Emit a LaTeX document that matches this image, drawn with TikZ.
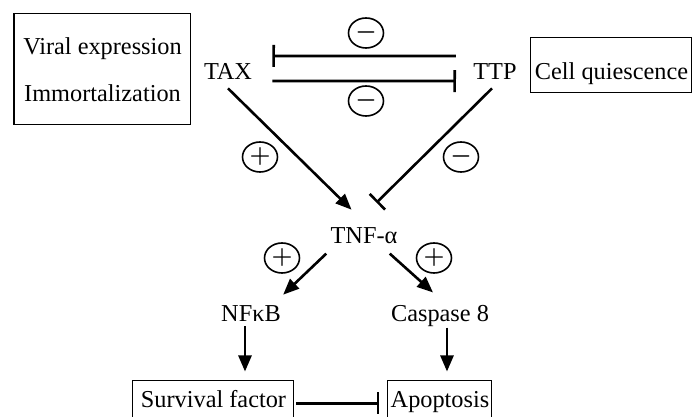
\documentclass[tikz,border=0pt]{standalone}
\usepackage{fontspec}
\setmainfont{Liberation Serif}
\usetikzlibrary{arrows.meta,shapes.geometric}

\begin{document}
\begin{tikzpicture}[x=0.5pt,y=-0.5pt,
  font=\fontsize{12.15}{14.5}\selectfont,
  box/.style={draw,line width=0.5pt,inner sep=0pt,align=center},
  lbl/.style={inner sep=2pt,anchor=base},
  sign/.style={draw,ellipse,line width=0.8pt,inner sep=0pt,
              minimum width=17.5pt,minimum height=15pt,font=\fontsize{13}{14}\selectfont\boldmath},
  act/.style={-{Triangle[length=8pt,width=6.5pt]},line width=1.3pt},
  inhib/.style={-{Bar[width=11pt,line width=1.3pt]},line width=1.3pt}
]
\clip (0,0) rectangle (693,417);
% phenotype boxes
\node[box,minimum width=88.5pt,minimum height=55.5pt] (viral) at (102.5,69.5)
  {Viral expression\\[9pt]Immortalization};
\node[box,minimum width=80.5pt,text height=21pt,text depth=6.5pt,anchor=base]
  (quies) at (611.5,80) {Cell quiescence};
\node[box,minimum width=80.5pt,text height=13.5pt,text depth=9pt,anchor=base]
  (surv) at (213.5,408) {Survival factor};
\node[box,minimum width=52pt,text height=13.5pt,text depth=9pt,anchor=base]
  (apop) at (440,408) {Apoptosis};
% molecules
\node[lbl] (tax) at (228,80) {TAX};
\node[lbl] (ttp) at (495,80) {TTP};
\node[lbl] (tnf) at (364,244) {TNF-α};
\node[lbl] (nfkb) at (251,322) {NFκB};
\node[lbl] (casp) at (440,322) {Caspase 8};
% signs
\node[sign] (mtop) at (366,33) {$-$};
\node[sign] (mbot) at (366,101) {$-$};
\node[sign] (ptax) at (260,157) {$+$};
\node[sign] (mttp) at (461,157) {$-$};
\node[sign] (pnfkb) at (282,258) {$+$};
\node[sign] (pcasp) at (434,258) {$+$};
% interactions
\draw[inhib] ([shift={(-6.5pt,8pt)}]ttp.west) -- ([shift={(8pt,8pt)}]tax.east);
\draw[inhib] ([shift={(8pt,-4.5pt)}]tax.east) -- ([shift={(-6.5pt,-4.5pt)}]ttp.west);
\draw[act] ([yshift=-2pt]tax.south) -- ([yshift=7pt]tnf.135);
\draw[inhib] ([shift={(-1.5pt,-2pt)}]ttp.south) -- ([yshift=10.5pt]tnf.45);
\draw[act] ([yshift=-2.5pt]tnf.south west) -- ([shift={(-1pt,3.5pt)}]nfkb.north east);
\draw[act] ([shift={(-6pt,-2.5pt)}]tnf.south east) -- ([shift={(-3.5pt,4.5pt)}]casp.north);
\draw[act,shorten >=4.5pt] ([xshift=-3pt]nfkb.south) -- ([xshift=-3pt]nfkb.south |- surv.north);
\draw[act,shorten >=4.5pt] ([shift={(3.5pt,2pt)}]casp.south) -- ([xshift=3.5pt]casp.south |- apop.north);
\draw[inhib,shorten <=1pt,shorten >=4pt] (surv.east) -- (apop.west);
\end{tikzpicture}
\end{document}
